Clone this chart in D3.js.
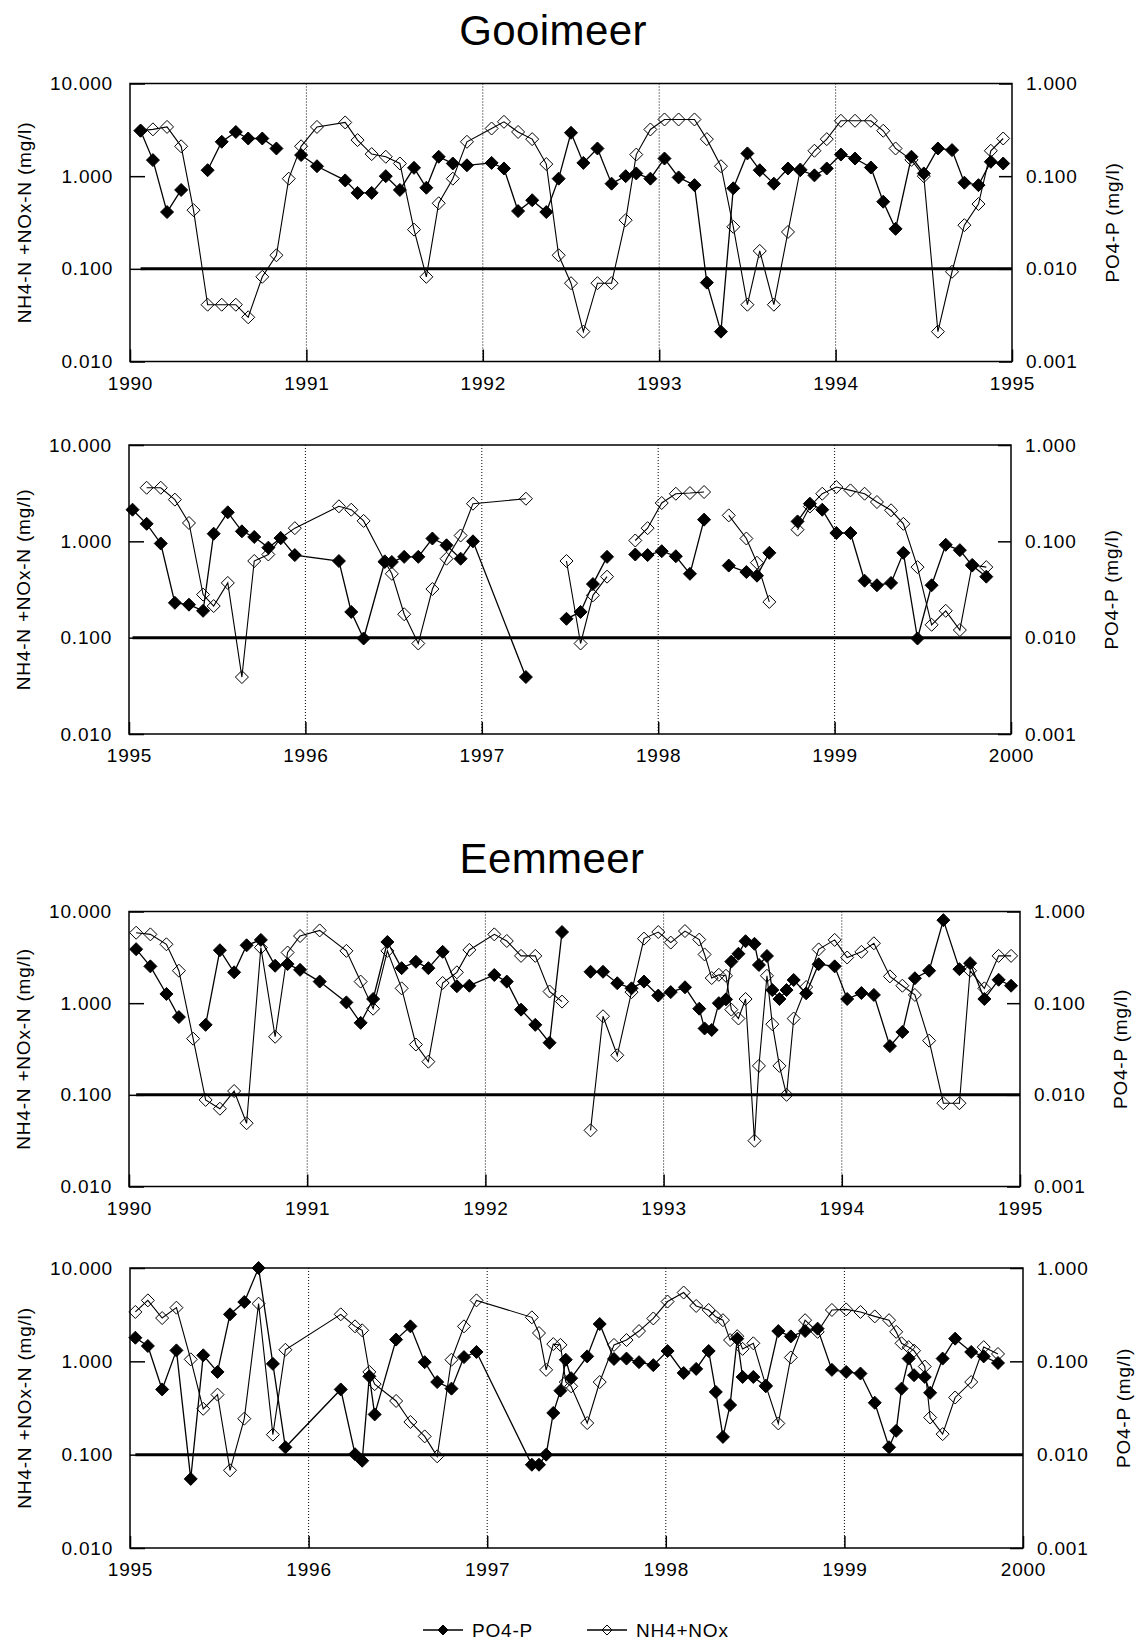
<!DOCTYPE html>
<html>
<head>
<meta charset="utf-8">
<script src="https://cdn.jsdelivr.net/npm/d3@7"></script>
<style>
  html, body { margin: 0; padding: 0; background: #fff; }
  svg text { font-family: "Liberation Sans", Arial, sans-serif; }
</style>
</head>
<body>
<div id="chart"></div>
<script>
// Lake titles and legend labels
const lakeNames = ["Gooimeer", "Eemmeer"];
const seriesNames = ["PO4-P", "NH4+NOx"];
const leftTitle = "NH4-N +NOx-N (mg/l)";
const rightTitle = "PO4-P (mg/l)";

// Axis ticks
const yearTicksA = [1990, 1991, 1992, 1993, 1994, 1995];
const yearTicksB = [1995, 1996, 1997, 1998, 1999, 2000];
const nhTicks = [0.01, 0.1, 1, 10];
const poTicks = [0.001, 0.01, 0.1, 1];
const limitValue = 0.1;

// Gooimeer 1990-1994 (null = break in the line)
const gooiYearsA = [1990.06,1990.13,1990.21,1990.29,1990.36,1990.44,1990.52,1990.60,1990.67,1990.75,1990.83,1990.90,1990.97,
  1991.06,1991.22,1991.29,1991.37,1991.45,1991.53,1991.61,1991.68,1991.75,1991.83,1991.91,
  1992.05,1992.12,1992.20,1992.28,1992.36,1992.43,1992.50,1992.57,1992.65,1992.73,1992.81,1992.87,1992.95,
  1993.03,1993.11,1993.20,1993.27,1993.35,1993.42,1993.50,1993.57,1993.65,1993.73,1993.80,1993.88,1993.95,
  1994.03,1994.11,1994.20,1994.27,1994.34,1994.43,1994.50,1994.58,1994.66,1994.73,1994.81,1994.88,1994.95];
const gooiPO4A = [0.31,0.149,0.041,0.071,null,0.116,0.235,0.30,0.255,0.255,0.199,null,0.169,
  0.128,0.090,0.066,0.066,0.100,0.071,0.123,0.075,0.162,0.137,0.131,
  0.139,0.121,0.042,0.055,0.041,0.094,0.294,0.139,0.199,0.083,0.100,0.107,0.094,
  0.155,0.097,0.080,0.0071,0.0021,0.074,0.176,0.116,0.083,0.121,0.116,0.102,0.121,
  0.171,0.155,0.124,0.053,0.027,0.162,0.107,0.199,0.191,0.085,0.080,0.143,0.137];
const gooiNH4A = [3.1,3.2,3.4,2.1,0.43,0.041,0.041,0.041,0.030,0.082,0.14,0.94,2.1,
  3.4,3.8,2.45,1.73,1.62,1.37,0.265,0.082,0.51,0.94,2.35,
  3.27,3.86,3.0,2.51,1.35,0.14,0.070,0.021,0.070,0.070,0.335,1.71,3.19,
  4.09,4.09,4.09,2.51,1.28,0.284,0.041,0.156,0.041,0.25,1.18,1.88,2.51,
  3.96,3.96,3.96,3.09,1.99,1.5,1.0,0.021,0.093,0.296,0.50,1.88,2.55];

// Gooimeer 1995-1999
const gooiYearsB = [1995.02,1995.10,1995.18,1995.26,1995.34,1995.42,1995.48,1995.56,1995.64,1995.71,1995.79,1995.86,1995.94,
  1996.19,1996.26,1996.33,1996.45,1996.49,1996.56,1996.64,1996.72,1996.80,1996.88,1996.95,
  1997.25,1997.37,1997.48,1997.56,1997.63,1997.71,1997.79,1997.87,1997.94,
  1998.02,1998.10,1998.18,1998.26,1998.33,1998.40,1998.50,1998.56,1998.63,1998.71,1998.79,1998.86,1998.93,
  1999.01,1999.09,1999.17,1999.24,1999.32,1999.39,1999.47,1999.55,1999.63,1999.71,1999.78,1999.86];
const gooiPO4B = [0.213,0.152,0.095,0.023,0.022,0.019,0.12,0.20,0.127,0.111,0.086,0.108,0.072,
  0.0625,0.0185,0.0098,0.061,0.061,0.069,0.069,0.107,0.091,0.066,0.10,
  0.0039,null,0.0157,0.0185,0.036,0.069,null,0.073,0.072,
  0.079,0.070,0.046,0.168,null,0.056,0.048,0.044,0.076,null,0.161,0.246,0.213,
  0.122,0.122,0.039,0.035,0.037,0.076,0.0098,0.035,0.092,0.081,0.056,0.043];
const gooiNH4B = [null,3.6,3.6,2.71,1.55,0.28,0.213,0.37,0.039,0.625,0.73,1.08,1.37,
  2.31,2.13,1.63,0.62,0.46,0.175,0.087,0.32,0.66,1.15,2.46,
  2.77,null,0.625,0.087,0.275,0.43,null,1.02,1.37,
  2.5,3.12,3.17,3.25,null,1.86,1.07,0.6,0.235,null,1.32,2.3,3.12,
  3.66,3.38,3.12,2.56,2.1,1.52,0.54,0.136,0.19,0.12,0.57,0.54];

// Eemmeer 1990-1994
const eemYearsA = [1990.04,1990.12,1990.21,1990.28,1990.36,1990.43,1990.51,1990.59,1990.66,1990.74,1990.82,1990.89,1990.96,
  1991.07,1991.22,1991.30,1991.37,1991.45,1991.53,1991.61,1991.68,1991.76,1991.84,1991.91,
  1992.05,1992.12,1992.20,1992.28,1992.36,1992.43,1992.51,1992.59,1992.66,1992.74,1992.82,1992.89,1992.97,
  1993.04,1993.12,1993.20,1993.23,1993.27,1993.31,1993.35,1993.38,1993.42,1993.46,1993.51,1993.535,1993.58,1993.61,1993.65,1993.69,1993.73,1993.80,1993.87,1993.96,
  1994.03,1994.11,1994.18,1994.27,1994.34,1994.41,1994.49,1994.57,1994.66,1994.72,1994.80,1994.88,1994.95];
const eemPO4A = [0.388,0.252,0.126,0.0705,null,0.058,0.378,0.217,0.428,0.49,0.256,0.267,0.231,
  0.172,0.102,0.061,0.111,0.465,0.241,0.283,0.241,0.363,0.153,0.155,
  0.203,0.172,0.085,0.058,0.037,0.597,null,0.22,0.22,0.165,0.145,0.172,0.121,
  0.132,0.149,0.087,0.053,0.051,0.10,0.11,0.284,0.346,0.474,0.444,0.261,0.327,0.139,0.111,0.139,0.179,0.128,0.266,0.252,
  0.111,0.129,0.123,0.034,0.0485,0.187,0.226,0.805,0.235,0.273,0.111,0.18,0.155];
const eemNH4A = [5.87,5.63,4.39,2.26,0.41,0.088,0.0705,0.11,0.049,4.04,0.43,3.57,5.4,
  6.22,3.72,1.72,0.87,3.72,1.45,0.354,0.23,1.66,2.17,3.81,
  5.63,4.77,3.28,3.28,1.34,1.04,null,0.041,0.72,0.27,1.32,5.06,5.97,
  4.58,6.12,4.94,3.4,1.88,2.04,1.99,0.85,0.68,1.11,0.0316,0.207,1.99,0.59,0.207,0.10,0.68,1.5,3.86,4.9,
  3.15,3.63,4.5,1.96,1.55,1.23,0.39,0.081,0.081,2.26,1.45,3.28,3.28];

// Eemmeer 1995-1999
const eemYearsB = [1995.03,1995.10,1995.18,1995.26,1995.34,1995.41,1995.49,1995.56,1995.64,1995.72,1995.80,1995.87,
  1996.18,1996.26,1996.30,1996.34,1996.37,1996.49,1996.57,1996.65,1996.72,1996.80,1996.87,1996.94,
  1997.25,1997.29,1997.33,1997.37,1997.41,1997.44,1997.47,1997.56,1997.63,1997.71,1997.78,1997.85,1997.93,
  1998.01,1998.10,1998.17,1998.24,1998.28,1998.32,1998.36,1998.40,1998.43,1998.49,1998.56,1998.63,1998.70,1998.78,1998.85,1998.93,
  1999.01,1999.09,1999.17,1999.25,1999.29,1999.32,1999.36,1999.39,1999.45,1999.48,1999.55,1999.62,1999.71,1999.78,1999.86];
const eemPO4B = [0.179,0.146,0.050,0.131,0.0055,0.116,0.077,0.319,0.432,1.0,0.094,0.012,
  0.050,0.0101,0.0086,0.069,0.027,0.171,0.237,0.098,0.060,0.051,0.111,0.126,
  0.0078,0.0078,0.010,0.028,0.0485,0.104,0.066,0.113,0.251,0.106,0.107,0.098,0.091,
  0.129,0.075,0.083,0.129,0.047,0.0155,0.034,0.175,0.068,0.068,0.054,0.211,0.185,0.211,0.224,0.081,
  0.077,0.074,0.036,0.012,0.018,0.051,0.107,0.071,0.068,0.046,0.107,0.175,0.126,0.113,0.096];
const eemNH4B = [3.38,4.5,2.91,3.76,1.05,0.31,0.44,0.068,0.243,4.15,0.164,1.33,
  3.19,2.37,2.15,0.77,0.57,0.376,0.224,0.157,0.096,1.04,2.37,4.5,
  2.96,2.01,0.81,1.53,1.5,0.6,0.54,0.218,0.6,1.5,1.69,2.11,2.88,
  4.37,5.46,3.92,3.55,3.0,2.76,1.69,1.86,1.36,1.56,0.55,0.216,1.1,2.76,2.07,3.55,
  3.6,3.38,3.03,2.76,2.07,1.56,1.42,1.3,0.88,0.25,0.166,0.41,0.6,1.42,1.2];

const width = 1136, height = 1642;
const FONT = 19;

const svg = d3.select('#chart')
    .append('svg')
    .attr('width', width)
    .attr('height', height)
    .style('display', 'block');

// Titles
svg.append('text').attr('x', 553).attr('y', 45).attr('text-anchor', 'middle')
    .attr('font-size', 42).attr('letter-spacing', 0.4).text(lakeNames[0]);
svg.append('text').attr('x', 552).attr('y', 873).attr('text-anchor', 'middle')
    .attr('font-size', 42).attr('letter-spacing', 0.4).text(lakeNames[1]);

// diamond marker path
function diamond(r) {
    return `M0,${-r}L${r},0L0,${r}L${-r},0Z`;
}

const panels = [
    { years: gooiYearsA, po: gooiPO4A, nh: gooiNH4A, ticks: yearTicksA, x0: 130, x1: 1012, y0: 83.5, y1: 361.5 },
    { years: gooiYearsB, po: gooiPO4B, nh: gooiNH4B, ticks: yearTicksB, x0: 129, x1: 1011, y0: 445, y1: 734 },
    { years: eemYearsA, po: eemPO4A, nh: eemNH4A, ticks: yearTicksA, x0: 129, x1: 1020, y0: 911.5, y1: 1186.5 },
    { years: eemYearsB, po: eemPO4B, nh: eemNH4B, ticks: yearTicksB, x0: 130, x1: 1023, y0: 1268, y1: 1548 }
];

panels.forEach(drawPanel);

function styleAxis(g) {
    g.select('.domain').remove();
    g.attr('font-size', FONT)
        .attr('font-family', '"Liberation Sans", Arial, sans-serif')
        .attr('letter-spacing', 0.8);
    g.selectAll('.tick line').attr('stroke', '#000').attr('stroke-width', 1.5);
    g.selectAll('.tick text').attr('fill', '#000');
}

function drawPanel(p) {
    const g = svg.append('g');

    const x = d3.scaleLinear()
        .domain([p.ticks[0], p.ticks[p.ticks.length - 1]])
        .range([p.x0, p.x1]);
    const yN = d3.scaleLog().domain([0.01, 10]).range([p.y1, p.y0]);
    const yP = d3.scaleLog().domain([0.001, 1]).range([p.y1, p.y0]);

    // dotted year grid lines
    g.selectAll('line.grid')
        .data(p.ticks.slice(1, -1))
        .enter()
        .append('line')
        .attr('class', 'grid')
        .attr('x1', d => x(d)).attr('x2', d => x(d))
        .attr('y1', p.y0).attr('y2', p.y1)
        .attr('stroke', '#000')
        .attr('stroke-width', 1)
        .attr('stroke-dasharray', '1,2');

    // reference line at 0.100
    g.append('line')
        .attr('x1', x(p.years[0])).attr('x2', p.x1)
        .attr('y1', yN(limitValue)).attr('y2', yN(limitValue))
        .attr('stroke', '#000')
        .attr('stroke-width', 3);

    // axes
    g.append('g')
        .attr('transform', `translate(${p.x0},0)`)
        .call(d3.axisLeft(yN).tickValues(nhTicks).tickSize(-15).tickPadding(17).tickFormat(d3.format('.3f')))
        .call(styleAxis);
    g.append('g')
        .attr('transform', `translate(${p.x1},0)`)
        .call(d3.axisRight(yP).tickValues(poTicks).tickSize(-13).tickPadding(14).tickFormat(d3.format('.3f')))
        .call(styleAxis);
    g.append('g')
        .attr('transform', `translate(0,${p.y1})`)
        .call(d3.axisBottom(x).tickValues(p.ticks).tickSize(-12).tickPadding(15).tickFormat(d3.format('d')))
        .call(styleAxis);

    // frame
    g.append('rect')
        .attr('x', p.x0).attr('y', p.y0)
        .attr('width', p.x1 - p.x0).attr('height', p.y1 - p.y0)
        .attr('fill', 'none')
        .attr('stroke', '#000')
        .attr('stroke-width', 1.5);

    // axis titles
    const yMid = (p.y0 + p.y1) / 2;
    g.append('text')
        .attr('transform', `translate(${p.x0 - 106},${yMid}) rotate(-90)`)
        .attr('text-anchor', 'middle')
        .attr('dy', '0.35em')
        .attr('font-size', FONT)
        .attr('letter-spacing', 0.8)
        .text(leftTitle);
    g.append('text')
        .attr('transform', `translate(${p.x1 + 100},${yMid}) rotate(-90)`)
        .attr('text-anchor', 'middle')
        .attr('dy', '0.35em')
        .attr('font-size', FONT)
        .attr('letter-spacing', 0.8)
        .text(rightTitle);

    const nhData = p.years.map((t, i) => ({ t: t, v: p.nh[i] }));
    const poData = p.years.map((t, i) => ({ t: t, v: p.po[i] }));

    const lineN = d3.line()
        .defined(d => d.v != null)
        .x(d => x(d.t))
        .y(d => yN(d.v));
    const lineP = d3.line()
        .defined(d => d.v != null)
        .x(d => x(d.t))
        .y(d => yP(d.v));

    // NH4+NOx, open diamonds
    g.append('path')
        .datum(nhData)
        .attr('d', lineN)
        .attr('fill', 'none')
        .attr('stroke', '#000')
        .attr('stroke-width', 1.1);
    g.selectAll('path.nh')
        .data(nhData.filter(d => d.v != null))
        .enter()
        .append('path')
        .attr('class', 'nh')
        .attr('transform', d => `translate(${x(d.t)},${yN(d.v)})`)
        .attr('d', diamond(6.5))
        .attr('fill', 'none')
        .attr('stroke', '#000')
        .attr('stroke-width', 1);

    // PO4-P, filled diamonds
    g.append('path')
        .datum(poData)
        .attr('d', lineP)
        .attr('fill', 'none')
        .attr('stroke', '#000')
        .attr('stroke-width', 1.3);
    g.selectAll('path.po')
        .data(poData.filter(d => d.v != null))
        .enter()
        .append('path')
        .attr('class', 'po')
        .attr('transform', d => `translate(${x(d.t)},${yP(d.v)})`)
        .attr('d', diamond(6.5))
        .attr('fill', '#000')
        .attr('stroke', '#000')
        .attr('stroke-width', 1);
}

// Legend
const legend = svg.append('g').attr('transform', 'translate(0,1630)');
const legendItems = [
    { label: seriesNames[0], filled: true, lx: 423 },
    { label: seriesNames[1], filled: false, lx: 587 }
];
legendItems.forEach(item => {
    legend.append('line')
        .attr('x1', item.lx).attr('x2', item.lx + 40)
        .attr('y1', 0).attr('y2', 0)
        .attr('stroke', '#000').attr('stroke-width', 1.3);
    legend.append('path')
        .attr('transform', `translate(${item.lx + 20},0)`)
        .attr('d', diamond(5))
        .attr('fill', item.filled ? '#000' : 'none')
        .attr('stroke', '#000')
        .attr('stroke-width', 1);
    legend.append('text')
        .attr('x', item.lx + 49)
        .attr('y', 7)
        .attr('font-size', FONT)
        .attr('letter-spacing', 0.8)
        .text(item.label);
});
</script>
</body>
</html>
